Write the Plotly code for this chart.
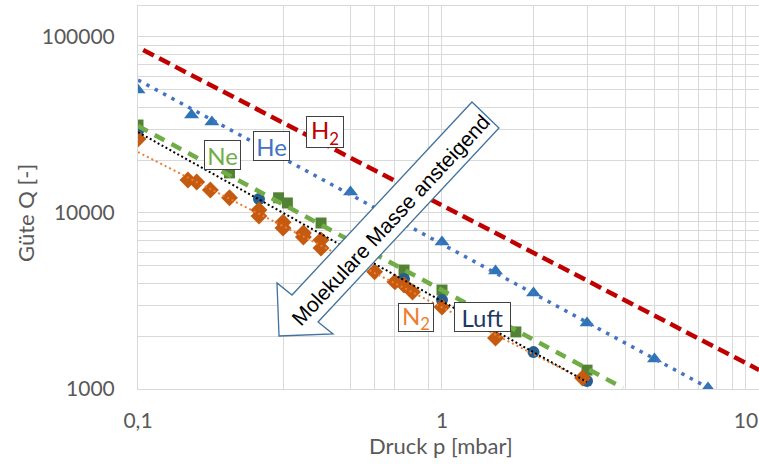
import plotly.graph_objects as go

# ---------------- data ----------------
# measured points
he_p = [0.1, 0.15, 0.175, 0.5, 1.0, 1.5, 2.0, 3.0, 5.0, 7.5]
he_q = [50000, 36000, 32900, 13150, 6840, 4680, 3510, 2370, 1480, 1013]

ne_p = [0.1, 0.2, 0.29, 0.31, 0.4, 0.75, 1.0, 1.75, 3.0]
ne_q = [31600, 16900, 12200, 11400, 8770, 4740, 3650, 2110, 1280]

luft_p = [0.1, 0.25, 0.75, 1.0, 2.0, 3.0]
luft_q = [29200, 12000, 4220, 3200, 1620, 1110]

n2_p = [0.1, 0.146, 0.156, 0.173, 0.2, 0.25, 0.25, 0.3, 0.3, 0.35, 0.35,
        0.4, 0.4, 0.6, 0.7, 0.75, 0.8, 1.0, 1.5, 2.9]
n2_q = [26300, 15400, 15000, 13500, 12200, 10400, 9600, 8860, 8220, 7690, 7310,
        7030, 6320, 4630, 4060, 3900, 3560, 2920, 1950, 1155]

# trend lines (power-law fits, end points)
h2_fit_p = [0.104, 11.04]
h2_fit_q = [84300, 1283]
he_fit_p = [0.1, 7.5]
he_fit_q = [57000, 1017]
ne_fit_p = [0.1, 3.94]
ne_fit_q = [31200, 1013]
luft_fit_p = [0.1, 3.0]
luft_fit_q = [28800, 1096]
n2_fit_p = [0.1, 3.0]
n2_fit_q = [22200, 1103]

# axis ticks
x_tickvals = [0.1, 1, 10]
x_ticktext = ["0,1", "1", "10"]
y_tickvals = [1000, 10000, 100000]
y_ticktext = ["1000", "10000", "100000"]
x_minor = [0.3, 0.5, 0.6, 0.7, 0.9, 2, 3, 4, 5, 6, 7, 8, 9]
y_minor = [m * d for d in (1000, 10000) for m in range(2, 10)]

# labels
gas_labels = ["H<sub>2</sub>", "He", "Ne", "N<sub>2</sub>", "Luft"]
arrow_text = "Molekulare Masse ansteigend"

# ---------------- figure ----------------
W, H = 759, 464
ML, MR, MT, MB = 138, 0, 6, 75
PW, PH = W - ML - MR, H - MT - MB


def px2paper(x, y):
    return (x - ML) / PW, (MT + PH - y) / PH


fig = go.Figure()

# markers
fig.add_trace(go.Scatter(x=he_p, y=he_q, mode="markers",
                         marker=dict(symbol="triangle-up", size=13, color="#2e75b6"),
                         showlegend=False))
fig.add_trace(go.Scatter(x=ne_p, y=ne_q, mode="markers",
                         marker=dict(symbol="square", size=11, color="#548235"),
                         showlegend=False))
fig.add_trace(go.Scatter(x=luft_p, y=luft_q, mode="markers",
                         marker=dict(symbol="circle", size=12, color="#255e91"),
                         showlegend=False))
fig.add_trace(go.Scatter(x=n2_p, y=n2_q, mode="markers",
                         marker=dict(symbol="diamond", size=13, color="#c55a11"),
                         showlegend=False))

# trend lines
fig.add_trace(go.Scatter(x=h2_fit_p, y=h2_fit_q, mode="lines",
                         line=dict(color="#c00000", width=4.5, dash="12px,6px"),
                         showlegend=False))
fig.add_trace(go.Scatter(x=he_fit_p, y=he_fit_q, mode="lines",
                         line=dict(color="#4472c4", width=3.5, dash="3.5px,6px"),
                         showlegend=False))
fig.add_trace(go.Scatter(x=ne_fit_p, y=ne_fit_q, mode="lines",
                         line=dict(color="#70ad47", width=4.5, dash="11px,8px"),
                         showlegend=False))
fig.add_trace(go.Scatter(x=n2_fit_p, y=n2_fit_q, mode="lines",
                         line=dict(color="#ed7d31", width=2, dash="2px,3px"),
                         showlegend=False))
fig.add_trace(go.Scatter(x=luft_fit_p, y=luft_fit_q, mode="lines",
                         line=dict(color="#000000", width=2, dash="2px,2.5px"),
                         showlegend=False))

grid = "#d9d9d9"
FONT = "Lato, 'Open Sans', sans-serif"
tickfont = dict(family=FONT, size=21, color="#595959")

fig.update_xaxes(type="log", range=[-1, 1.0428], tickvals=x_tickvals, ticktext=x_ticktext,
                 showgrid=True, gridcolor=grid, gridwidth=1,
                 minor=dict(tickvals=x_minor, showgrid=True, gridcolor=grid, gridwidth=1),
                 showline=True, linecolor=grid, linewidth=1, mirror=True,
                 ticks="", tickfont=tickfont, ticklabelstandoff=13, zeroline=False)
fig.update_yaxes(type="log", range=[3, 5.176], tickvals=y_tickvals, ticktext=y_ticktext,
                 showgrid=True, gridcolor=grid, gridwidth=1,
                 minor=dict(tickvals=y_minor, showgrid=True, gridcolor=grid, gridwidth=1),
                 showline=True, linecolor=grid, linewidth=1, mirror=True,
                 ticks="", tickfont=tickfont, ticklabelstandoff=18, zeroline=False)

# arrow shape (pixel geometry -> paper)
arrow_px = [(472, 102), (499, 128), (318, 322), (333, 334), (279, 336),
            (277, 283), (292, 295)]
pts = [px2paper(x, y) for x, y in arrow_px]
path = "M " + " L ".join(f"{x:.4f},{y:.4f}" for x, y in pts) + " Z"
fig.add_shape(type="path", path=path, xref="paper", yref="paper",
              line=dict(color="#41719c", width=1.3), fillcolor="white", layer="above")

annotations = []
ax, ay = px2paper(390, 220)
annotations.append(dict(text=arrow_text, x=ax, y=ay, xref="paper", yref="paper",
                        showarrow=False, textangle=-47,
                        font=dict(family="Liberation Sans, Arial, sans-serif", size=21,
                                  color="#000000")))

# gas labels (log10 data coords)
label_pos = [(-0.385, 4.460), (-0.5625, 4.378), (-0.722, 4.327), (-0.0855, 3.406), (0.133, 3.409)]
label_box = [(34, 28), (33, 26), (33, 26), (32, 25), (53, 26)]
label_col = ["#c00000", "#4472c4", "#70ad47", "#ed7d31", "#1f3864"]
for t, (lx, ly), (bw, bh), c in zip(gas_labels, label_pos, label_box, label_col):
    annotations.append(dict(text=t, x=lx, y=ly, xref="x", yref="y", showarrow=False,
                            width=bw, height=bh, align="center", valign="middle",
                            font=dict(family=FONT, size=24, color=c),
                            bgcolor="white", bordercolor="#404040", borderwidth=1,
                            borderpad=1))

# axis titles
tx, ty = px2paper(441, 445)
annotations.append(dict(text="Druck p [mbar]", x=tx, y=ty, xref="paper", yref="paper",
                        showarrow=False, xanchor="center", yanchor="middle",
                        font=dict(family=FONT, size=22, color="#595959")))
tx, ty = px2paper(26, 213)
annotations.append(dict(text="Güte Q [-]", x=tx, y=ty, xref="paper", yref="paper",
                        showarrow=False, textangle=-90, xanchor="center", yanchor="middle",
                        font=dict(family=FONT, size=22, color="#595959")))

fig.update_layout(width=W, height=H, margin=dict(l=ML, r=MR, t=MT, b=MB),
                  paper_bgcolor="white", plot_bgcolor="white",
                  annotations=annotations, showlegend=False)

fig.write_html("out.html")
